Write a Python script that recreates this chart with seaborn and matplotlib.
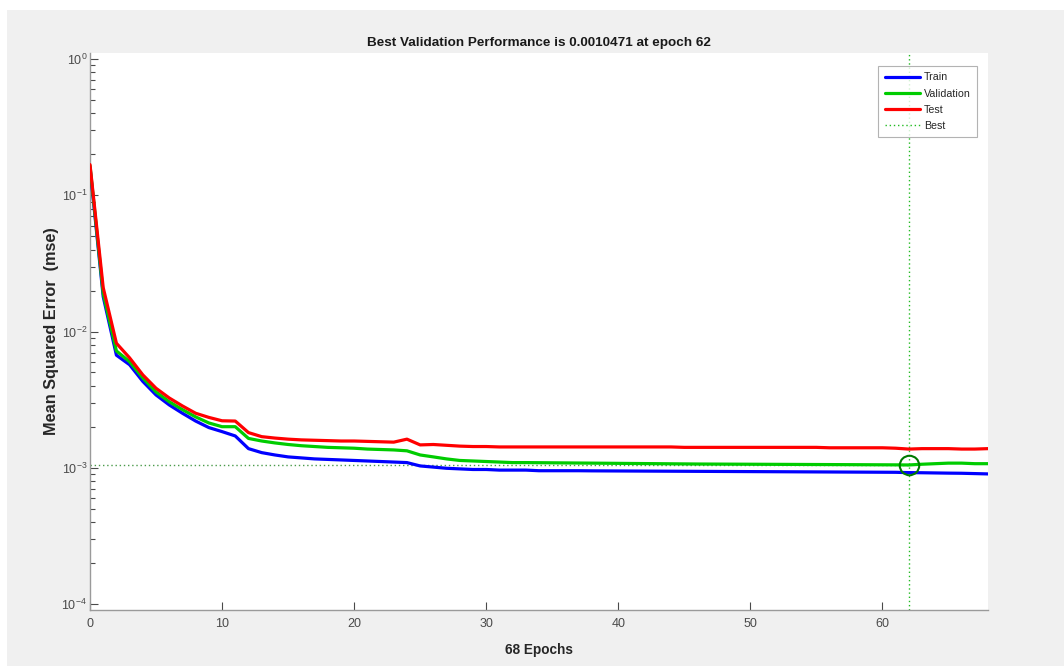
import numpy as np
import pandas as pd
import matplotlib
matplotlib.use("Agg")
import matplotlib.pyplot as plt
from matplotlib.patches import Rectangle
import seaborn as sns

epochs = list(range(69))
train = [0.160, 0.018, 0.0067, 0.0057, 0.0043, 0.00342, 0.00289, 0.00251, 0.0022, 0.00197,
         0.00184, 0.00171, 0.00138, 0.00129, 0.00124, 0.00120, 0.00118, 0.00116, 0.00115, 0.00114,
         0.00113, 0.00112, 0.00111, 0.00110, 0.00109, 0.00103, 0.00101, 0.00099, 0.00098, 0.00097,
         0.00097, 0.00096, 0.00096, 0.00096, 0.00095, 0.00095, 0.00095, 0.00095, 0.000948, 0.000947,
         0.000946, 0.000945, 0.000944, 0.000943, 0.000942, 0.000941, 0.00094, 0.000939, 0.000938, 0.000937,
         0.000936, 0.000935, 0.000934, 0.000933, 0.000932, 0.000931, 0.00093, 0.000929, 0.000928, 0.000927,
         0.000926, 0.000925, 0.00092, 0.000918, 0.000915, 0.000912, 0.00091, 0.000905, 0.0009]
validation = [0.165, 0.019, 0.0072, 0.0060, 0.00456, 0.0036, 0.00305, 0.00267, 0.00236, 0.00213,
              0.0020, 0.0020, 0.00164, 0.00157, 0.00152, 0.00148, 0.00145, 0.00143, 0.00141, 0.00140,
              0.00139, 0.00137, 0.00136, 0.00135, 0.00133, 0.00124, 0.00120, 0.00116, 0.00113, 0.00112,
              0.00111, 0.00110, 0.00109, 0.00109, 0.001088, 0.001086, 0.001084, 0.001082, 0.00108, 0.001078,
              0.001076, 0.001074, 0.001072, 0.00107, 0.001068, 0.001066, 0.001064, 0.001063, 0.001062, 0.001061,
              0.00106, 0.001059, 0.001058, 0.001057, 0.001056, 0.001055, 0.001054, 0.001053, 0.001052, 0.001051,
              0.00105, 0.001049, 0.0010471, 0.00106, 0.00107, 0.00108, 0.00108, 0.00107, 0.00107]
test = [0.168, 0.021, 0.0082, 0.0064, 0.0048, 0.00383, 0.00325, 0.00284, 0.00251, 0.00234,
        0.00221, 0.0022, 0.00181, 0.00169, 0.00165, 0.00162, 0.0016, 0.00159, 0.00158, 0.00157,
        0.00157, 0.00156, 0.00155, 0.00154, 0.00162, 0.00147, 0.00148, 0.00146, 0.00144, 0.00143,
        0.00143, 0.00142, 0.00142, 0.00142, 0.00142, 0.00142, 0.00142, 0.00142, 0.00142, 0.00142,
        0.00142, 0.00142, 0.00142, 0.00142, 0.00142, 0.00141, 0.00141, 0.00141, 0.00141, 0.00141,
        0.00141, 0.00141, 0.00141, 0.00141, 0.00141, 0.00141, 0.00140, 0.00140, 0.00140, 0.00140,
        0.00140, 0.00139, 0.00137, 0.00138, 0.00138, 0.00138, 0.00137, 0.00137, 0.00138]
best_epoch = 62
best_value = 0.0010471
series_names = ["Train", "Validation", "Test"]
series_colors = ["#0000ff", "#00cc00", "#ff0000"]

sns.set_style("ticks")
plt.rcParams['font.family'] = ['Liberation Sans', 'DejaVu Sans']
plt.rcParams['axes.unicode_minus'] = False

fig = plt.figure(figsize=(10.64, 6.66), dpi=100)
fig.patch.set_facecolor("white")
fig.patches.append(Rectangle((7 / 1064, 0), 1, (666 - 10) / 666, transform=fig.transFigure,
                             facecolor="#f0f0f0", edgecolor="none", zorder=-10))
ax = fig.add_axes([90 / 1064, 1 - 610 / 666, 898 / 1064, 557 / 666])
ax.set_facecolor("white")

df = pd.DataFrame({"epoch": epochs * 3,
                   "mse": train + validation + test,
                   "set": sum([[n] * len(epochs) for n in series_names], [])})
for name, col in zip(series_names, series_colors):
    sns.lineplot(data=df[df["set"] == name], x="epoch", y="mse", color=col,
                 linewidth=2.3, ax=ax, label=name, zorder=3)

ax.set_yscale("log")
ax.set_xlim(0, 68)
ax.set_ylim(10 ** -4.045, 10 ** 0.045)

best_col = "#22bb22"
ax.axvline(best_epoch, color=best_col, linestyle=(0, (1, 2)), linewidth=1.0, zorder=2, label="Best")
ax.plot([0, best_epoch], [best_value, best_value], color="#4a9a4a", linestyle=(0, (1, 2)),
        linewidth=1.0, zorder=2)
ax.plot([best_epoch], [best_value], marker="o", markersize=14, markerfacecolor="none",
        markeredgecolor="#007a00", markeredgewidth=1.5, zorder=4)

ax.set_xticks([0, 10, 20, 30, 40, 50, 60])
ax.set_yticks([1e-4, 1e-3, 1e-2, 1e-1, 1e0])
ax.tick_params(axis="both", which="major", direction="in", length=6, width=0.8,
               colors="#4a4a4a", labelsize=9)
ax.tick_params(axis="x", which="major", pad=6)
ax.tick_params(axis="y", which="major", pad=2)
ax.tick_params(axis="y", which="minor", direction="in", length=3.5, width=0.8, colors="#4a4a4a")
for s in ["top", "right"]:
    ax.spines[s].set_visible(False)
for s in ["left", "bottom"]:
    ax.spines[s].set_color("#9a9a9a")
    ax.spines[s].set_linewidth(1.0)

ax.set_title("Best Validation Performance is 0.0010471 at epoch 62", fontsize=9.7,
             fontweight="bold", color="#1a1a1a", pad=5)
ax.set_xlabel("68 Epochs", fontsize=9.8, fontweight="bold", color="#262626", labelpad=9)
ax.set_ylabel("Mean Squared Error  (mse)", fontsize=11.7, fontweight="bold", color="#262626")
ax.yaxis.set_label_coords(-0.034, 0.5)

handles, labels = ax.get_legend_handles_labels()
leg = ax.legend(handles, labels, loc="upper right", fontsize=7.7, frameon=True, fancybox=False,
                borderpad=0.6, handlelength=3.3, labelspacing=0.58, handletextpad=0.35,
                borderaxespad=0, bbox_to_anchor=(0.9878, 0.9767))
leg.get_frame().set_edgecolor("#a0a0a0")
leg.get_frame().set_linewidth(0.8)

fig.savefig("out.png", dpi=100, facecolor=fig.get_facecolor())
